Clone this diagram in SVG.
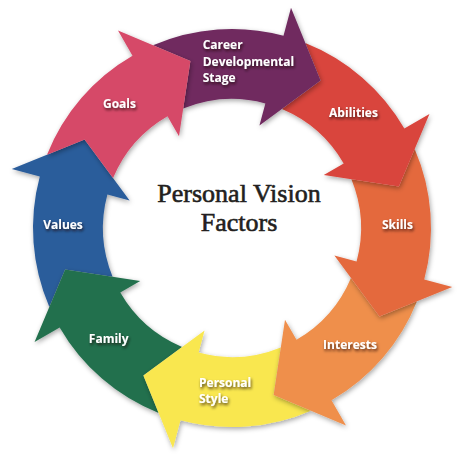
<svg xmlns="http://www.w3.org/2000/svg" xmlns:xlink="http://www.w3.org/1999/xlink" width="466" height="458" viewBox="0 0 466 458">
<defs>
<style>
.lbl{font-family:"Open Sans","DejaVu Sans",sans-serif;font-weight:700;font-size:12px;fill:#ffffff;filter:url(#ts)}
.title{font-family:"Liberation Serif","Times New Roman",serif;font-weight:400;font-size:26px;fill:#231f20;stroke:#231f20;stroke-width:0.6px;text-anchor:middle}
.c0{fill:#d64867}.c1{fill:#6f2a5f}.c2{fill:#d9453c}.c3{fill:#e4693e}
.c4{fill:#ef8f4c}.c5{fill:#f9e74f}.c6{fill:#24704d}.c7{fill:#2c5d9b}
</style>
<filter id="sh" x="-30%" y="-30%" width="160%" height="160%">
<feDropShadow dx="1" dy="2" stdDeviation="2.5" flood-color="#000" flood-opacity="0.35"/>
</filter>
<filter id="ts" x="-20%" y="-40%" width="140%" height="180%">
<feDropShadow dx="1" dy="2" stdDeviation="1.5" flood-color="#1a0a0a" flood-opacity="0.75"/>
</filter>
<path id="arrow" d="M47.0,154.67 L84.57,139.41 L113.05,178.08 A129,129 0 0 1 167.5,116.29 L179,136.2 L190.39,61.11 L118,30.55 L132.5,55.66 A199,199 0 0 0 47.0,154.67 Z"/>
</defs>
<rect width="466" height="458" fill="#ffffff"/>

<g id="values">
<g filter="url(#sh)"><use xlink:href="#arrow" class="c7" transform="rotate(315 232 228)"/></g>
<text class="lbl" x="63" y="228.5" text-anchor="middle">Values</text>
</g>
<g id="family">
<g filter="url(#sh)"><use xlink:href="#arrow" class="c6" transform="rotate(270 232 228)"/></g>
<text class="lbl" x="108.7" y="343.3" text-anchor="middle">Family</text>
</g>
<g id="personal-style">
<g filter="url(#sh)"><use xlink:href="#arrow" class="c5" transform="rotate(225 232 228)"/></g>
<text class="lbl" x="199" y="387.3">Personal</text>
<text class="lbl" x="199" y="403">Style</text>
</g>
<g id="interests">
<g filter="url(#sh)"><use xlink:href="#arrow" class="c4" transform="rotate(180 232 228)"/></g>
<text class="lbl" x="350" y="348.5" text-anchor="middle">Interests</text>
</g>
<g id="skills">
<g filter="url(#sh)"><use xlink:href="#arrow" class="c3" transform="rotate(135 232 228)"/></g>
<text class="lbl" x="397.5" y="228.5" text-anchor="middle">Skills</text>
</g>
<g id="abilities">
<g filter="url(#sh)"><use xlink:href="#arrow" class="c2" transform="rotate(90 232 228)"/></g>
<text class="lbl" x="353.5" y="116.8" text-anchor="middle">Abilities</text>
</g>
<g id="career">
<g filter="url(#sh)"><use xlink:href="#arrow" class="c1" transform="rotate(45 232 228)"/></g>
<text class="lbl" x="202.7" y="49">Career</text>
<text class="lbl" x="202.7" y="65.5">Developmental</text>
<text class="lbl" x="202.7" y="82">Stage</text>
</g>
<g id="goals">
<g filter="url(#sh)"><use xlink:href="#arrow" class="c0"/></g>
<text class="lbl" x="119.5" y="107.5" text-anchor="middle">Goals</text>
</g>

<g id="title">
<text class="title" x="239" y="202.3">Personal Vision</text>
<text class="title" x="239" y="231">Factors</text>
</g>
</svg>
